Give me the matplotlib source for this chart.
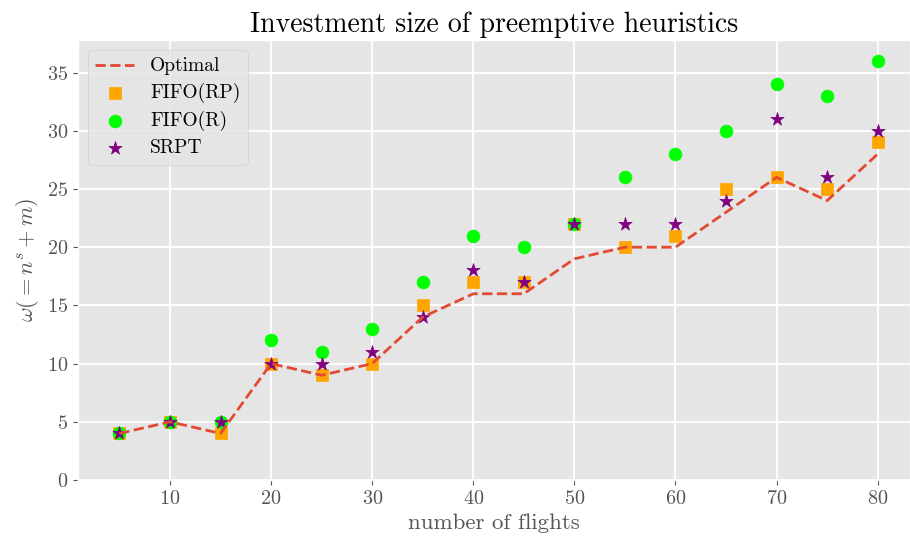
import numpy as np
import matplotlib
matplotlib.use('Agg')
import matplotlib.pyplot as plt

plt.style.use('ggplot')
plt.rcParams['font.family'] = 'serif'
plt.rcParams['font.serif'] = ['cmr10', 'DejaVu Serif']
plt.rcParams['mathtext.fontset'] = 'cm'
plt.rcParams['axes.formatter.use_mathtext'] = True
plt.rcParams['grid.linewidth'] = 1.3

flights = [5, 10, 15, 20, 25, 30, 35, 40, 45, 50, 55, 60, 65, 70, 75, 80]
optimal = [4, 5, 4, 10, 9, 10, 14, 16, 16, 19, 20, 20, 23, 26, 24, 28]
fifo_rp = [4, 5, 4, 10, 9, 10, 15, 17, 17, 22, 20, 21, 25, 26, 25, 29]
fifo_r = [4, 5, 5, 12, 11, 13, 17, 21, 20, 22, 26, 28, 30, 34, 33, 36]
srpt = [4, 5, 5, 10, 10, 11, 14, 18, 17, 22, 22, 22, 24, 31, 26, 30]

fig = plt.figure(figsize=(9.1, 5.44), dpi=100)
ax = fig.add_axes([0.0857, 0.1176, 0.9143, 0.8089])

ax.plot(flights, optimal, '--', color='#E24A33', lw=2.0, label='Optimal')
ax.scatter(flights, fifo_rp, marker='s', s=85, color='orange', label='FIFO(RP)')
ax.scatter(flights, fifo_r, marker='o', s=85, color='lime', label='FIFO(R)')
ax.scatter(flights, srpt, marker='*', s=100, color='purple', label='SRPT')

ax.set_xlim(0.9, 83.2)
ax.set_ylim(0, 37.8)
ax.set_xticks([10, 20, 30, 40, 50, 60, 70, 80])
ax.set_yticks(range(0, 36, 5))
ax.tick_params(labelsize=14.5)

ax.set_title('Investment size of preemptive heuristics', fontsize=20, color='black')
ax.set_xlabel('number of flights', fontsize=16.5)
ax.set_ylabel(r'$\omega(=n^s+m)$', fontsize=16)

ax.legend(loc='upper left', fontsize=14, labelspacing=0.4)

fig.savefig('out.png', dpi=100)
